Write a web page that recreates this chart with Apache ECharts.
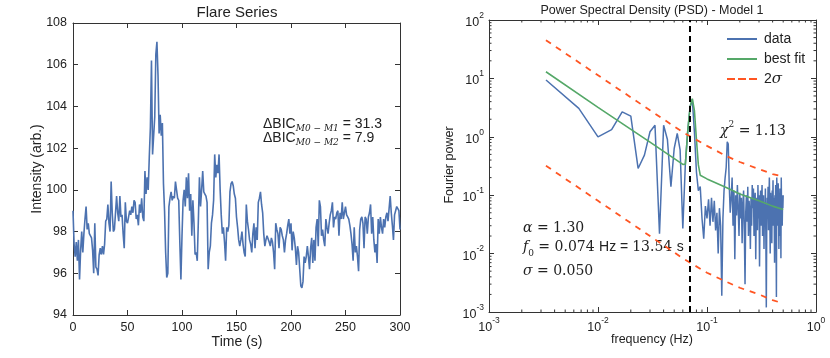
<!DOCTYPE html>
<html>
<head>
<meta charset="utf-8">
<script src="https://cdn.jsdelivr.net/npm/echarts@6/dist/echarts.min.js"></script>
<style>
  html, body { margin: 0; padding: 0; background: #fff; }
  #main { width: 830px; height: 358px; }
</style>
</head>
<body>
<div id="main"></div>
<script>
// flare light curve, one sample per second (t = 0 .. 300 s)
var intensity = [
  99.0, 97.4, 96.8, 97.5, 96.6, 97.6, 95.7, 97.1, 98.0, 97.0,
  97.9, 98.6, 99.2, 98.1, 98.4, 97.9, 97.9, 97.7, 97.1, 96.0,
  98.4, 96.3, 96.2, 95.9, 96.9, 97.2, 96.9, 97.3, 96.9, 97.4,
  98.5, 98.6, 99.3, 98.4, 98.0, 100.4, 98.9, 98.0, 98.1, 98.1,
  99.7, 98.9, 98.5, 99.7, 98.7, 98.8, 97.9, 97.2, 99.4, 98.5,
  98.4, 98.7, 99.0, 98.8, 99.2, 98.9, 99.5, 99.4, 98.6, 98.8,
  98.3, 99.3, 98.9, 99.6, 98.7, 98.5, 100.9, 99.8, 100.6, 100.0,
  101.6, 103.0, 106.2, 101.7, 101.7, 103.5, 106.5, 107.1, 105.5, 102.7,
  103.6, 102.6, 103.2, 100.3, 99.0, 97.0, 95.8, 96.0, 99.2, 99.6,
  99.9, 99.5, 99.7, 99.6, 100.4, 100.0, 99.6, 99.5, 97.5, 95.7,
  97.8, 99.5, 100.0, 99.2, 100.6, 99.6, 100.8, 99.0, 99.8, 97.8,
  99.5, 98.4, 96.9, 97.0, 96.6, 98.5, 100.6, 99.2, 100.0, 100.9,
  99.9, 99.8, 99.7, 99.4, 96.2, 97.0, 97.3, 98.4, 98.8, 99.5,
  101.7, 100.6, 101.2, 100.8, 101.7, 100.0, 98.8, 97.9, 98.2, 97.5,
  96.6, 98.2, 98.0, 98.3, 99.9, 100.3, 100.4, 100.2, 99.8, 99.6,
  98.7, 98.2, 97.6, 97.3, 97.6, 98.0, 97.4, 97.0, 96.8, 99.3,
  98.5, 98.1, 97.6, 97.4, 97.0, 97.9, 98.4, 97.2, 98.2, 97.6,
  99.4, 99.6, 99.9, 99.3, 98.9, 97.9, 97.3, 97.6, 97.8, 97.8,
  97.5, 97.3, 97.7, 97.5, 97.0, 96.2, 98.4, 98.1, 97.9, 97.2,
  98.2, 98.1, 97.8, 97.6, 97.0, 97.6, 97.9, 98.3, 98.6, 97.9,
  98.4, 97.1, 98.0, 97.7, 97.2, 96.4, 97.3, 97.0, 97.0, 95.4,
  95.3, 95.6, 96.8, 96.5, 96.8, 97.3, 96.8, 96.2, 97.2, 97.7,
  96.5, 97.6, 96.6, 98.2, 98.6, 97.3, 99.5, 99.2, 97.8, 98.1,
  97.6, 97.3, 98.6, 98.2, 97.9, 98.4, 98.8, 99.0, 99.4, 98.2,
  98.7, 98.6, 98.9, 99.0, 97.8, 98.9, 98.6, 99.4, 98.6, 98.9,
  99.2, 98.8, 98.7, 98.6, 98.3, 97.9, 97.4, 96.6, 98.2, 97.0,
  97.3, 96.8, 96.1, 98.1, 98.6, 98.7, 98.4, 97.2, 98.7, 98.6,
  97.9, 98.7, 98.9, 99.3, 97.9, 98.7, 97.6, 97.0, 97.4, 96.5,
  98.6, 97.9, 98.7, 98.2, 97.9, 98.6, 98.2, 98.7, 98.9, 98.5,
  99.1, 99.7, 98.9, 98.3, 97.6, 98.8, 99.0, 99.2, 99.1, 99.0,
  98.1
];

// periodogram of the light curve, frequencies k/300 Hz, k = 1 .. 150
var psdPower = [
  9.4, 3.06, 1.0, 1.33, 2.68, 2.26, 0.287, 0.485, 1.22, 1.58,
  0.022, 1.58, 0.9, 0.14, 0.63, 1.14, 0.6, 0.027, 0.35, 1.3,
  3.2, 4.4, 1.2, 0.25, 0.12, 0.14, 0.04, 0.018, 0.065, 0.04,
  0.085, 0.03, 0.09, 0.035, 0.08, 0.025, 0.05, 0.01, 0.06, 0.03,
  0.0019, 0.04, 0.12, 0.2, 0.3, 0.82, 0.75, 0.15, 0.05, 0.09,
  0.2, 0.03, 0.12, 0.008, 0.1, 0.045, 0.15, 0.06, 0.02, 0.11,
  0.04, 0.09, 0.015, 0.07, 0.12, 0.025, 0.003, 0.05, 0.1, 0.035,
  0.14, 0.02, 0.08, 0.05, 0.012, 0.09, 0.03, 0.15, 0.06, 0.13,
  0.02, 0.07, 0.11, 0.008, 0.06, 0.09, 0.025, 0.15, 0.04, 0.1,
  0.006, 0.05, 0.12, 0.03, 0.08, 0.15, 0.02, 0.06, 0.1, 0.012,
  0.07, 0.04, 0.13, 0.02, 0.0012, 0.03, 0.09, 0.05, 0.14, 0.025,
  0.08, 0.2, 0.06, 0.01, 0.11, 0.04, 0.07, 0.015, 0.12, 0.05,
  0.18, 0.03, 0.09, 0.06, 0.007, 0.1, 0.04, 0.15, 0.02, 0.0018,
  0.2, 0.05, 0.11, 0.03, 0.16, 0.06, 0.012, 0.09, 0.04, 0.13,
  0.02, 0.07, 0.0083, 0.2, 0.05, 0.1, 0.03, 0.08, 0.06, 0.1
];

// best-fit model (power law + constant + gaussian bump)
var fitFreq  = [0.00333, 0.01, 0.03, 0.06, 0.06333, 0.06667, 0.07, 0.07333, 0.07667, 0.08, 0.08333, 0.08667, 0.1, 0.15, 0.2, 0.3, 0.4, 0.5];
var fitPower = [13.0, 3.2, 0.81, 0.336, 0.34, 1.3, 3.3, 4.5, 2.8, 0.9, 0.33, 0.22, 0.19, 0.135, 0.105, 0.08, 0.065, 0.057];

// 2 sigma envelope
var sigmaFreq  = [0.00333, 0.01, 0.03, 0.06, 0.1, 0.15, 0.2, 0.3, 0.4, 0.5];
var sigmaUpper = [45, 11.3, 2.85, 1.2, 0.7, 0.47, 0.37, 0.28, 0.23, 0.21];
var sigmaLower = [0.32, 0.08, 0.02, 0.0083, 0.0047, 0.0033, 0.0026, 0.002, 0.0016, 0.0014];

var f0 = 0.074;
var sampleStep = 1;        // s
var nSamples = 300;

var timeData = intensity.map(function (v, i) { return [i * sampleStep, v]; });
var psdData = psdPower.map(function (p, i) { return [(i + 1) / (nSamples * sampleStep), p]; });
function pairs(xs, ys) { return xs.map(function (x, i) { return [x, ys[i]]; }); }

var minorX = [], minorY = [];
for (var d = -3; d < 0; d++) for (var m = 2; m < 10; m++) minorX.push([m * Math.pow(10, d), 1]);
for (var d2 = -3; d2 < 2; d2++) for (var m2 = 2; m2 < 10; m2++) minorY.push([0.01, m2 * Math.pow(10, d2)]);

var SANS = 'Liberation Sans';
var SERIF = 'DejaVu Serif';
var AXC = '#333';

function linAxis(extra) {
  var base = {
    splitLine: { show: false },
    axisLine: { show: true, onZero: false, lineStyle: { color: AXC, width: 1 } },
    axisTick: { show: true, inside: true, length: 5, lineStyle: { color: AXC } },
    axisLabel: { color: '#222', fontSize: 12.5, fontFamily: SANS, margin: 6 }
  };
  return Object.assign(base, extra);
}

var logRich = {
  b: { fontSize: 12.5, fontFamily: SANS, color: '#222', lineHeight: 18, verticalAlign: 'bottom' },
  s: { fontSize: 8.5, fontFamily: SANS, color: '#222', lineHeight: 18, verticalAlign: 'top' }
};
function logFmt(v) {
  var e = Math.round(Math.log10(v));
  return '{b|10}{s|' + e + '}';
}

function minorTicks(isX) {
  return function (params, api) {
    var cs = params.coordSys;
    var p = api.coord([api.value(0), api.value(1)]);
    var L = 2.5, segs = [];
    if (isX) {
      segs.push([p[0], cs.y + cs.height, p[0], cs.y + cs.height - L]);
      segs.push([p[0], cs.y, p[0], cs.y + L]);
    } else {
      segs.push([cs.x, p[1], cs.x + L, p[1]]);
      segs.push([cs.x + cs.width, p[1], cs.x + cs.width - L, p[1]]);
    }
    return {
      type: 'group',
      children: segs.map(function (s) {
        return { type: 'line', shape: { x1: s[0], y1: s[1], x2: s[2], y2: s[3] }, style: { stroke: AXC, lineWidth: 1 } };
      })
    };
  };
}

var chart = echarts.init(document.getElementById('main'));
chart.setOption({
  animation: false,
  backgroundColor: '#fff',
  grid: [
    { left: 73, top: 23, width: 327, height: 292 },
    { left: 489, top: 20, width: 327, height: 292 }
  ],
  xAxis: [
    linAxis({ gridIndex: 0, type: 'value', min: 0, max: 300, interval: 50, position: 'bottom' }),
    linAxis({ gridIndex: 0, type: 'value', min: 0, max: 300, interval: 50, position: 'top', axisLabel: { show: false } }),
    linAxis({ gridIndex: 1, type: 'log', logBase: 10, min: 0.001, max: 1, position: 'bottom',
      axisLabel: { formatter: logFmt, rich: logRich, margin: 4 } }),
    linAxis({ gridIndex: 1, type: 'log', logBase: 10, min: 0.001, max: 1, position: 'top', axisLabel: { show: false } })
  ],
  yAxis: [
    linAxis({ gridIndex: 0, type: 'value', min: 94, max: 108, interval: 2, position: 'left' }),
    linAxis({ gridIndex: 0, type: 'value', min: 94, max: 108, interval: 2, position: 'right', axisLabel: { show: false } }),
    linAxis({ gridIndex: 1, type: 'log', logBase: 10, min: 0.001, max: 100, position: 'left',
      axisLabel: { formatter: logFmt, rich: logRich, margin: 5 } }),
    linAxis({ gridIndex: 1, type: 'log', logBase: 10, min: 0.001, max: 100, position: 'right', axisLabel: { show: false } })
  ],
  legend: {
    data: [
      { name: 'data', icon: 'rect' },
      { name: 'best fit', icon: 'rect' },
      { name: '2σ', icon: 'path://M0,0h8v2h-8zM11,0h8v2h-8zM22,0h8v2h-8z' }
    ],
    orient: 'vertical',
    left: 722, top: 26,
    itemWidth: 30, itemHeight: 2, itemGap: 4,
    textStyle: { fontSize: 14, fontFamily: SANS, color: '#222', lineHeight: 16, padding: [0, 0, 0, 2],
      rich: { i: { fontSize: 15, fontFamily: SERIF, fontStyle: 'italic', color: '#222' } } },
    formatter: function (n) { return n === '2σ' ? '2{i|σ}' : n; }
  },
  series: [
    { type: 'line', name: 'flare', xAxisIndex: 0, yAxisIndex: 0, data: timeData,
      showSymbol: false, symbol: 'none', lineStyle: { color: '#4c72b0', width: 1.6 } },
    { type: 'line', name: 'data', xAxisIndex: 2, yAxisIndex: 2, data: psdData,
      showSymbol: false, symbol: 'none', itemStyle: { color: '#4c72b0' }, lineStyle: { color: '#4c72b0', width: 1.5 } },
    { type: 'line', name: 'best fit', xAxisIndex: 2, yAxisIndex: 2, data: pairs(fitFreq, fitPower),
      showSymbol: false, symbol: 'none', itemStyle: { color: '#55a868' }, lineStyle: { color: '#55a868', width: 1.6 } },
    { type: 'line', name: '2σ', xAxisIndex: 2, yAxisIndex: 2, data: pairs(sigmaFreq, sigmaUpper),
      showSymbol: false, symbol: 'none', itemStyle: { color: '#ff5522' },
      lineStyle: { color: '#ff5522', width: 1.8, type: [6, 6] } },
    { type: 'line', name: '2σ', xAxisIndex: 2, yAxisIndex: 2, data: pairs(sigmaFreq, sigmaLower),
      showSymbol: false, symbol: 'none', itemStyle: { color: '#ff5522' },
      lineStyle: { color: '#ff5522', width: 1.8, type: [6, 6] },
      markLine: { silent: true, symbol: 'none', label: { show: false },
        lineStyle: { color: '#000', width: 2, type: [6, 4] },
        data: [{ xAxis: f0 }] } },
    { type: 'custom', name: 'minorX', xAxisIndex: 2, yAxisIndex: 2, data: minorX, renderItem: minorTicks(true), silent: true },
    { type: 'custom', name: 'minorY', xAxisIndex: 2, yAxisIndex: 2, data: minorY, renderItem: minorTicks(false), silent: true }
  ],
  graphic: [
    { type: 'text', x: 237, y: 13, style: { text: 'Flare Series', font: '15px "Liberation Sans"', fill: '#222', align: 'center', verticalAlign: 'middle' } },
    { type: 'text', x: 37, y: 169, rotation: Math.PI / 2, style: { text: 'Intensity (arb.)', font: '14px "Liberation Sans"', fill: '#222', align: 'center', verticalAlign: 'middle' } },
    { type: 'text', x: 237, y: 342, style: { text: 'Time (s)', font: '14px "Liberation Sans"', fill: '#222', align: 'center', verticalAlign: 'middle' } },
    { type: 'text', x: 263, y: 125, style: {
      text: '{a|ΔBIC}{b|M0 − M1}{a| = 31.3}', align: 'left', verticalAlign: 'middle',
      rich: { a: { font: '14px "Liberation Sans"', fill: '#222', lineHeight: 16, verticalAlign: 'top' },
              b: { font: 'italic 9px "DejaVu Serif"', fill: '#222', lineHeight: 16, verticalAlign: 'bottom' } } } },
    { type: 'text', x: 263, y: 139, style: {
      text: '{a|ΔBIC}{b|M0 − M2}{a| = 7.9}', align: 'left', verticalAlign: 'middle',
      rich: { a: { font: '14px "Liberation Sans"', fill: '#222', lineHeight: 16, verticalAlign: 'top' },
              b: { font: 'italic 9px "DejaVu Serif"', fill: '#222', lineHeight: 16, verticalAlign: 'bottom' } } } },

    { type: 'text', x: 652, y: 11, style: { text: 'Power Spectral Density (PSD) - Model 1', font: '12.5px "Liberation Sans"', fill: '#222', align: 'center', verticalAlign: 'middle' } },
    { type: 'text', x: 450, y: 165, rotation: Math.PI / 2, style: { text: 'Fourier power', font: '12.5px "Liberation Sans"', fill: '#222', align: 'center', verticalAlign: 'middle' } },
    { type: 'text', x: 652, y: 340, style: { text: 'frequency (Hz)', font: '12.5px "Liberation Sans"', fill: '#222', align: 'center', verticalAlign: 'middle' } },
    { type: 'text', x: 720, y: 129, style: {
      text: '{i|χ}{p|2}{r| = 1.13}', align: 'left', verticalAlign: 'middle',
      rich: { i: { font: 'italic 14px "DejaVu Serif"', fill: '#222', lineHeight: 18, verticalAlign: 'bottom' },
              p: { font: '9px "DejaVu Serif"', fill: '#222', lineHeight: 18, verticalAlign: 'top' },
              r: { font: '14px "DejaVu Serif"', fill: '#222', lineHeight: 18, verticalAlign: 'bottom' } } } },
    { type: 'text', x: 523, y: 228, style: {
      text: '{i|α}{r| = 1.30}', align: 'left', verticalAlign: 'middle',
      rich: { i: { font: 'italic 14px "DejaVu Serif"', fill: '#222' }, r: { font: '14px "DejaVu Serif"', fill: '#222' } } } },
    { type: 'text', x: 523, y: 249, style: {
      text: '{i|f}{d|0}{r| = 0.074 }{s|Hz = }{r|13.54 }{s|s}', align: 'left', verticalAlign: 'middle',
      rich: { i: { font: 'italic 14px "DejaVu Serif"', fill: '#222', lineHeight: 18, verticalAlign: 'top' },
              d: { font: '9px "DejaVu Serif"', fill: '#222', lineHeight: 18, verticalAlign: 'bottom' },
              r: { font: '14px "DejaVu Serif"', fill: '#222', lineHeight: 18, verticalAlign: 'top' },
              s: { font: '14px "Liberation Sans"', fill: '#222', lineHeight: 18, verticalAlign: 'top' } } } },
    { type: 'text', x: 523, y: 271, style: {
      text: '{i|σ}{r| = 0.050}', align: 'left', verticalAlign: 'middle',
      rich: { i: { font: 'italic 14px "DejaVu Serif"', fill: '#222' }, r: { font: '14px "DejaVu Serif"', fill: '#222' } } } }
  ]
});
</script>
</body>
</html>
